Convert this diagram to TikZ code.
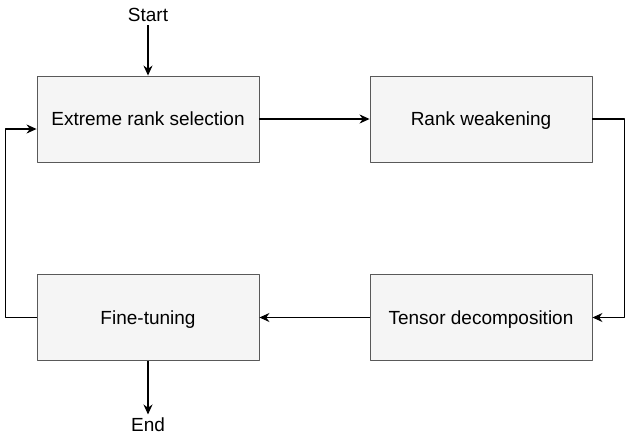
\documentclass[tikz,border=0pt]{standalone}
\usepackage{fontspec}
\setmainfont{Liberation Sans}
\usetikzlibrary{arrows.meta}
\begin{document}
\begin{tikzpicture}[x=1pt,y=-1pt,>={Stealth[length=10pt,width=9pt]}, font=\fontsize{19}{23}\selectfont, line join=round,
    box/.style={draw=gray!70!black,fill=gray!8,line width=0.9pt,minimum width=222pt,minimum height=86pt,inner sep=0pt,text depth=0pt},
    link/.style={->,line width=1.1pt}]
        \def\xl{148} \def\xr{481} \def\yt{119} \def\yb{317.5}
        \useasboundingbox (0,0) rectangle (637,440);
        \node (start) at (\xl,15) {Start};
        \node[box] (sel) at (\xl,\yt) {Extreme rank selection};
        \node[box] (weak) at (\xr,\yt) {Rank weakening};
        \node[box] (dec) at (\xr,\yb) {Tensor decomposition};
        \node[box] (fine) at (\xl,\yb) {Fine-tuning};
        \node (end) at (\xl,425) {End};
        \coordinate (in) at ([yshift=-10pt]sel.west);
        \draw[link] (start) -- (sel);
        \draw[link] (sel) -- (weak);
        \draw[link] (weak.east) -- ++(32,0) |- (dec.east);
        \draw[link] (dec) -- (fine);
        \draw[link] (fine.west) -- ++(-31,0) |- (in);
        \draw[link] (fine) -- (end);
\end{tikzpicture}
\end{document}
